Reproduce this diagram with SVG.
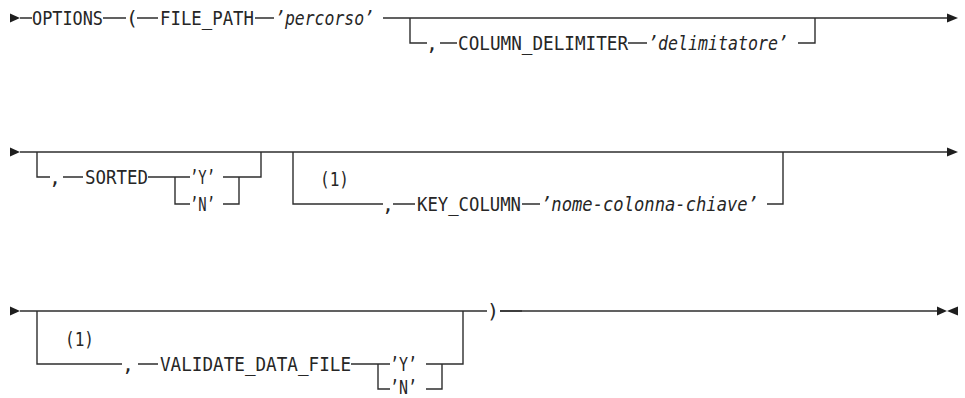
<svg xmlns="http://www.w3.org/2000/svg" width="965" height="398" viewBox="0 0 965 398">
  <style>
    .ln { fill: none; stroke: #2e2e2e; stroke-width: 1.4; }
    .ah { fill: #1e1e1e; }
    .kw { font-family: "DejaVu Sans Mono", "Liberation Mono", monospace; font-size: 20px; fill: #262626; }
    .var { font-family: "DejaVu Sans Mono", "Liberation Mono", monospace; font-size: 20px; font-style: italic; fill: #262626; }
  </style>
  <rect width="965" height="398" fill="#ffffff"/>

  <!-- connectors: main rails, optional branches and arrowheads -->
  <g id="connectors">
    <!-- row 1 -->
    <polygon class="ah" points="10,13.5 20,18 10,22.5"/>
    <path class="ln" d="M20,18 H32 M103,18 H126 M137,18 H158 M255,18 H274 M383,18 H948"/>
    <polygon class="ah" points="947,13.5 958,18 947,22.5"/>
    <path class="ln" d="M410,18 V43 H427 M440,43 H457 M628,43 H647 M798,43 H815 V18"/>

    <!-- row 2 -->
    <polygon class="ah" points="10,147.5 20,152 10,156.5"/>
    <path class="ln" d="M20,152 H948"/>
    <polygon class="ah" points="947,147.5 958,152 947,156.5"/>
    <path class="ln" d="M37,152 V177 H50 M63,177 H83 M148,177 H190 M175,177 V204 H190 M223,177 H261 V152 M223,204 H239 V177"/>
    <path class="ln" d="M293,152 V204 H383 M393,204 H415 M522,204 H540 M767,204 H783 V152"/>

    <!-- row 3 -->
    <polygon class="ah" points="10,306.5 20,311 10,315.5"/>
    <path class="ln" d="M20,311 H487 M500,311 H938"/>
    <path class="ln" d="M500,311 H522" stroke-width="2.2"/>
    <polygon class="ah" points="937,306.5 947,311 937,315.5"/>
    <polygon class="ah" points="958,306.5 947,311 958,315.5"/>
    <path class="ln" d="M37,311 V364 H122 M138,364 H158 M351,364 H390 M378,364 V389 H390 M426,364 H463 V311 M426,389 H442 V364"/>
  </g>

  <!-- row 1 nodes -->
  <g id="options"><text class="kw" x="32" y="24.5" textLength="71" lengthAdjust="spacingAndGlyphs">OPTIONS</text></g>
  <g id="open-paren"><text class="kw" x="126" y="24.5">(</text></g>
  <g id="file-path"><text class="kw" x="160" y="24.5" textLength="94" lengthAdjust="spacingAndGlyphs">FILE_PATH</text></g>
  <g id="percorso"><text class="var" x="275" y="24.5" textLength="99" lengthAdjust="spacingAndGlyphs">’percorso’</text></g>
  <g id="comma-1"><text class="kw" x="426" y="50">,</text></g>
  <g id="column-delimiter"><text class="kw" x="458" y="50" textLength="170" lengthAdjust="spacingAndGlyphs">COLUMN_DELIMITER</text></g>
  <g id="delimitatore"><text class="var" x="648" y="50" textLength="140" lengthAdjust="spacingAndGlyphs">’delimitatore’</text></g>

  <!-- row 2 nodes -->
  <g id="comma-2"><text class="kw" x="49" y="184">,</text></g>
  <g id="sorted"><text class="kw" x="85" y="184" textLength="63" lengthAdjust="spacingAndGlyphs">SORTED</text></g>
  <g id="sorted-y"><text class="kw" x="190" y="184" textLength="25" lengthAdjust="spacingAndGlyphs">’Y’</text></g>
  <g id="sorted-n"><text class="kw" x="190" y="211" textLength="25" lengthAdjust="spacingAndGlyphs">’N’</text></g>
  <g id="note-1a"><text class="kw" x="320" y="186" textLength="29" lengthAdjust="spacingAndGlyphs">(1)</text></g>
  <g id="comma-3"><text class="kw" x="382" y="211">,</text></g>
  <g id="key-column"><text class="kw" x="417" y="211" textLength="104" lengthAdjust="spacingAndGlyphs">KEY_COLUMN</text></g>
  <g id="nome-colonna-chiave"><text class="var" x="541" y="211" textLength="217" lengthAdjust="spacingAndGlyphs">’nome-colonna-chiave’</text></g>

  <!-- row 3 nodes -->
  <g id="note-1b"><text class="kw" x="65" y="346" textLength="29" lengthAdjust="spacingAndGlyphs">(1)</text></g>
  <g id="comma-4"><text class="kw" x="122" y="371">,</text></g>
  <g id="validate-data-file"><text class="kw" x="160" y="371" textLength="191" lengthAdjust="spacingAndGlyphs">VALIDATE_DATA_FILE</text></g>
  <g id="validate-y"><text class="kw" x="390" y="371" textLength="27" lengthAdjust="spacingAndGlyphs">’Y’</text></g>
  <g id="validate-n"><text class="kw" x="390" y="393.5" textLength="27" lengthAdjust="spacingAndGlyphs">’N’</text></g>
  <g id="close-paren"><text class="kw" x="487" y="317.5">)</text></g>
</svg>
